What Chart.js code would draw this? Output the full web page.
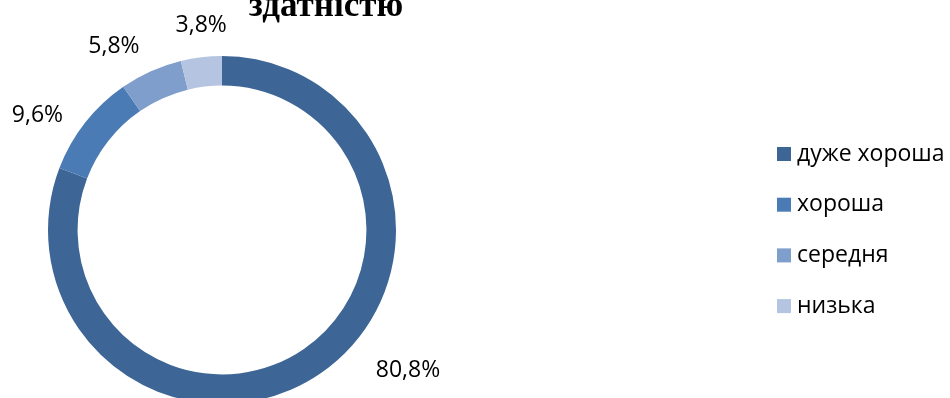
<!DOCTYPE html>
<html>
<head>
<meta charset="utf-8">
<script src="https://cdn.jsdelivr.net/npm/chart.js@4/dist/chart.umd.min.js"></script>
<style>
  html, body { margin: 0; padding: 0; background: #fff; overflow: hidden; }
  #wrap { position: relative; width: 950px; height: 420px; }
</style>
</head>
<body>
<div id="wrap"><canvas id="myChart"></canvas></div>
<script>
// дані діаграми
const categories = ['дуже хороша', 'хороша', 'середня', 'низька'];
const shares = [80.8, 9.6, 5.8, 3.8];
const sliceColors = ['#3d6596', '#4a7bb5', '#7f9ecb', '#b5c4e0'];
const titleText = 'здатністю';

// зсув підписів відносно точки біля кільця
const labelNudge = [[68, -31], [-21, 14], [-23, 6], [4, 2]];

const labelFont = '23px "Open Sans", sans-serif';

// підписи з відсотками біля кожного сегмента
const percentLabels = {
  id: 'percentLabels',
  afterDatasetsDraw(chart) {
    const ctx = chart.ctx;
    const arcs = chart.getDatasetMeta(0).data;
    ctx.save();
    ctx.font = labelFont;
    ctx.fillStyle = '#000';
    ctx.textAlign = 'center';
    ctx.textBaseline = 'middle';
    arcs.forEach((arc, i) => {
      const mid = (arc.startAngle + arc.endAngle) / 2;
      const r = arc.outerRadius + 34;
      const x = arc.x + Math.cos(mid) * r + labelNudge[i][0];
      const y = arc.y + Math.sin(mid) * r + labelNudge[i][1];
      const txt = shares[i].toFixed(1).replace('.', ',') + '%';
      ctx.fillText(txt, x, y);
    });
    ctx.restore();
  }
};

// легенда праворуч
const sideLegend = {
  id: 'sideLegend',
  afterDraw(chart) {
    const ctx = chart.ctx;
    ctx.save();
    ctx.font = labelFont;
    ctx.textBaseline = 'middle';
    ctx.textAlign = 'left';
    chart.data.labels.forEach((lbl, i) => {
      const y = 154 + i * 50.7;
      ctx.fillStyle = chart.data.datasets[0].backgroundColor[i];
      ctx.fillRect(777, y - 7, 14, 14);
      ctx.fillStyle = '#000';
      ctx.fillText(lbl, 797, y);
    });
    ctx.restore();
  }
};

// заголовок (верхні рядки обрізані)
const topTitle = {
  id: 'topTitle',
  afterDraw(chart) {
    const ctx = chart.ctx;
    ctx.save();
    ctx.font = 'bold 35px "Liberation Serif", "Times New Roman", serif';
    ctx.fillStyle = '#000';
    ctx.textAlign = 'center';
    ctx.textBaseline = 'alphabetic';
    ctx.fillText(titleText, 326, 16);
    ctx.restore();
  }
};

const ctx = document.getElementById('myChart').getContext('2d');
const myChart = new Chart(ctx, {
  type: 'doughnut',
  data: {
    labels: categories,
    datasets: [{
      data: shares,
      backgroundColor: sliceColors,
      borderWidth: 0
    }]
  },
  options: {
    responsive: true,
    maintainAspectRatio: false,
    animation: false,
    cutout: '83%',
    layout: {
      padding: { left: 48, top: 56, right: 554, bottom: 16 }
    },
    plugins: {
      legend: { display: false },
      tooltip: { enabled: false },
      title: { display: false }
    }
  },
  plugins: [percentLabels, sideLegend, topTitle]
});
</script>
</body>
</html>
